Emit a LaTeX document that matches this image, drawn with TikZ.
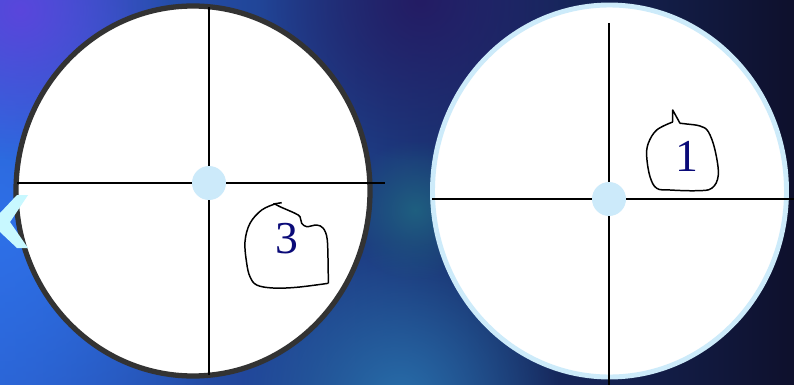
\documentclass[tikz,border=0pt]{standalone}
\usepackage{fontspec}
\setmainfont{Liberation Serif}
\usetikzlibrary{fadings}

\definecolor{dialrim}{HTML}{333333}
\definecolor{palerim}{HTML}{CDEBFA}
\definecolor{hubblue}{HTML}{CCEAFA}
\definecolor{digitnavy}{HTML}{0A0A78}
\definecolor{chevcyan}{HTML}{C8F8FF}
\definecolor{bgleft}{HTML}{2A5FCC}
\definecolor{bgright}{HTML}{0E102C}
\definecolor{glowblue}{HTML}{2E70E8}
\definecolor{glowpurple}{HTML}{5A46DC}
\definecolor{glowteal}{HTML}{286EAA}
\definecolor{glowsea}{HTML}{1F5F80}
\definecolor{glowdeep}{HTML}{241C64}

\tikzfading[name=glowfade, inner color=transparent!0, outer color=transparent!100]

\tikzset{
  cross/.style={black, line width=1.1pt},
  hub/.style={circle, fill=hubblue, draw=none, minimum size=0.68cm, inner sep=0pt},
  bubble/.style={black, line width=0.85pt, line join=round},
  digit/.style={text=digitnavy, font=\fontsize{26}{28}\selectfont, inner sep=0pt}
}

\begin{document}
\begin{tikzpicture}[x=0.02cm,y=-0.02cm]
\useasboundingbox (0,0) rectangle (794,385);
\begin{scope}
\clip (0,0) rectangle (794,385);
% background
\shade[left color=bgleft, right color=bgright] (0,0) rectangle (794,385);
\fill[glowblue, path fading=glowfade] (0,230) circle (260);
\fill[glowpurple, path fading=glowfade] (20,10) circle (150);
\fill[glowteal, path fading=glowfade] (400,400) circle (160);
\fill[glowsea, path fading=glowfade] (415,210) circle (70);
\fill[glowdeep, path fading=glowfade] (420,0) circle (160);

% left dial
\draw[dialrim, fill=white, line width=3pt] (193,191) ellipse (177 and 185);
\draw[cross] (209,7) -- (209,375);
\draw[cross] (17,183) -- (385,183);
\node[hub] (hubL) at (209,183) {};

% right dial
\draw[palerim, fill=white, line width=2.8pt] (609.5,191) ellipse (177 and 186);
\draw[cross] (609,23) -- (609,385);
\draw[cross] (432,199) -- (794,199);
\node[hub] (hubR) at (609,199) {};

% bubble 3
\draw[bubble] (273.3,204) -- (281.7,202.7);
\draw[bubble] plot[smooth, tension=0.6] coordinates {(275,204) (261.7,210) (250,223.3)
  (245,241.7) (246.7,263.3) (250,276.7) (256.7,285) (273,288) (296.7,287.3) (328.3,283.3)};
\draw[bubble] plot[smooth, tension=0.5] coordinates {(328.3,283.3) (328.3,276.7) (327.3,240)
  (323.3,228.3) (316.7,225) (306.7,226.7) (301.7,223.3) (300,216.7) (295,213.3) (280,206.7) (275,204)};
\node[digit] (three) at (287,239) {3};

% bubble 1
\draw[bubble] (680,123.3) -- (672.7,110) -- (672.7,122)
  plot[smooth, tension=0.6] coordinates {(672.7,122) (656.7,130) (648.3,143.3) (646.7,156.7)
  (650,176.7) (656.7,188.3) (670,190) (696.7,190.7) (711.7,188.3) (718.3,175) (715,150)
  (708.3,131.7) (700,126) (686.7,124) (680,123.3)};
\node[digit] (one) at (687,156) {1};

% chevron at left edge
\fill[chevcyan] (28,195) -- (17,195) -- (0,213) -- (0,232) -- (17,248) -- (28,248)
  -- (10,222) -- cycle;
\end{scope}
\end{tikzpicture}
\end{document}
